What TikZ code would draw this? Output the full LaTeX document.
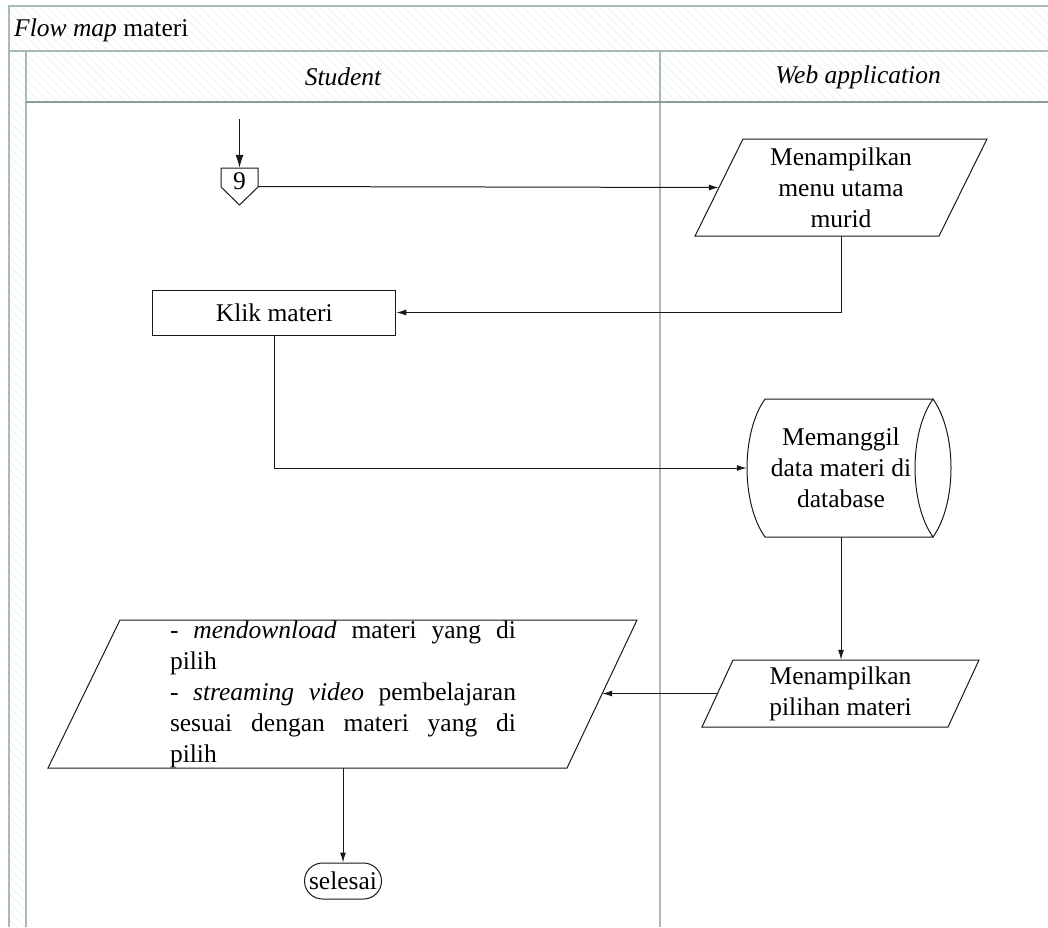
\documentclass[tikz,border=0pt]{standalone}
\usepackage{fontspec}
\setmainfont{Liberation Serif}
\usetikzlibrary{arrows.meta,patterns.meta,calc}

\definecolor{laneline}{RGB}{168,186,182}
\definecolor{lanehead}{RGB}{140,156,152}
\definecolor{hatch}{RGB}{234,238,237}
\definecolor{flow}{RGB}{25,25,25}

% a justified line: words spread over the full width
\newcommand{\spreadline}[1]{\leavevmode\hbox to 346pt{#1}}

\tikzset{
  box/.style={draw=none, inner sep=0pt, align=center},
  outline/.style={draw=flow, line width=1pt},
  flowline/.style={draw=flow, line width=1pt},
  arrowline/.style={flowline, -{Latex[length=10pt,width=6pt]}},
  band/.style={pattern={Lines[angle=-45,distance=6pt,line width=0.6pt]}, pattern color=hatch},
  frame/.style={draw=laneline, line width=1.2pt},
  lanetitle/.style={inner sep=0pt, font=\fontsize{25.5pt}{30pt}\selectfont\itshape},
}

\begin{document}
\begin{tikzpicture}[x=1pt, y=-1pt, font=\fontsize{25.5pt}{31pt}\selectfont]
\useasboundingbox (0,0) rectangle (1048,927);

% hatched title band, lane header band and left strip
\fill[band] (9,6) rectangle (1048,102);
\fill[band] (9,102) rectangle (26,927);

% pool and lane borders
\draw[frame] (9,927) -- (9,6) -- (1048,6);
\draw[frame] (9,51) -- (1048,51);
\draw[frame] (26,51) -- (26,927);
\draw[frame] (660,51) -- (660,927);
\draw[draw=lanehead, line width=2.4pt] (26,102) -- (1048,102);

% titles
\node[inner sep=0pt, anchor=base west] (title) at (14,36) {\textit{Flow map} materi};
\node[lanetitle] (student) at (343,77) {Student};
\node[lanetitle] (webapp) at (858,77) {Web application};

% off-page connector 9
\coordinate (start) at (239.5,119);
\node[box, minimum width=37pt, minimum height=37pt] (nine) at (239.5,186.5)
  {\raisebox{5pt}[\height][\depth]{9}};
\draw[outline, shift={(nine.center)}]
  (-18.5,-18.5) -- (18.5,-18.5) -- (18.5,0.5) -- (0,18.5) -- (-18.5,0.5) -- cycle;

% output: main menu
\node[box, minimum width=244pt, minimum height=97pt] (menu) at (841,187.5)
  {Menampilkan\\menu utama\\murid};
\draw[outline, shift={(menu.center)}]
  (-98,-48.5) -- (146,-48.5) -- (98,48.5) -- (-146,48.5) -- cycle;

% process: click material
\node[box, draw=flow, line width=1pt, minimum width=243pt, minimum height=45pt]
  (klik) at (274.3,312.5) {Klik materi};

% stored data: database
\node[box, minimum width=188pt, minimum height=138pt] (drum) at (841,468)
  {Memanggil\\data materi di\\database};
\draw[outline, shift={(drum.center)}]
  (92,-69) -- (-76,-69) .. controls (-100,-35) and (-100,35) .. (-76,69) -- (92,69)
  .. controls (68,35) and (68,-35) .. (92,-69)
  .. controls (116,-35) and (116,35) .. (92,69);

% output: material choices
\node[box, minimum width=245pt, minimum height=67pt] (pilihan) at (840.5,693.5)
  {Menampilkan\\pilihan materi};
\draw[outline, shift={(pilihan.center)}]
  (-107.5,-33.5) -- (138.5,-33.5) -- (107.5,33.5) -- (-138.5,33.5) -- cycle;

% input/output: download or stream
\node[box, minimum width=518pt, minimum height=148pt, text width=346pt, align=left]
  (unduh) at (343,694)
  {\spreadline{-\hfill\textit{mendownload}\hfill materi\hfill yang\hfill di}\\
   pilih\\
   \spreadline{-\hfill\textit{streaming}\hfill\textit{video}\hfill pembelajaran}\\
   \spreadline{sesuai\hfill dengan\hfill materi\hfill yang\hfill di}\\
   pilih};
\draw[outline, shift={(unduh.center)}]
  (-223,-74) -- (294,-74) -- (224,74) -- (-295,74) -- cycle;

% terminator
\node[draw=flow, line width=1pt, rounded corners=18pt, minimum width=77pt,
      minimum height=36pt, inner sep=0pt] (selesai) at (343,881) {selesai};

% connectors
\draw[flowline, -{Latex[length=13pt,width=8pt]}] (start) -- (nine.north);
\draw[arrowline] (nine.east) -- (menu.west);
\draw[arrowline] (menu.south) |- (klik.east);
\draw[arrowline] (klik.south) |- (drum.west);
\draw[arrowline] (drum.south) -- (drum.south |- pilihan.north);
\draw[arrowline] (pilihan.west) -- (pilihan.west -| unduh.east);
\draw[arrowline] (unduh.south) -- (selesai.north);
\end{tikzpicture}
\end{document}
